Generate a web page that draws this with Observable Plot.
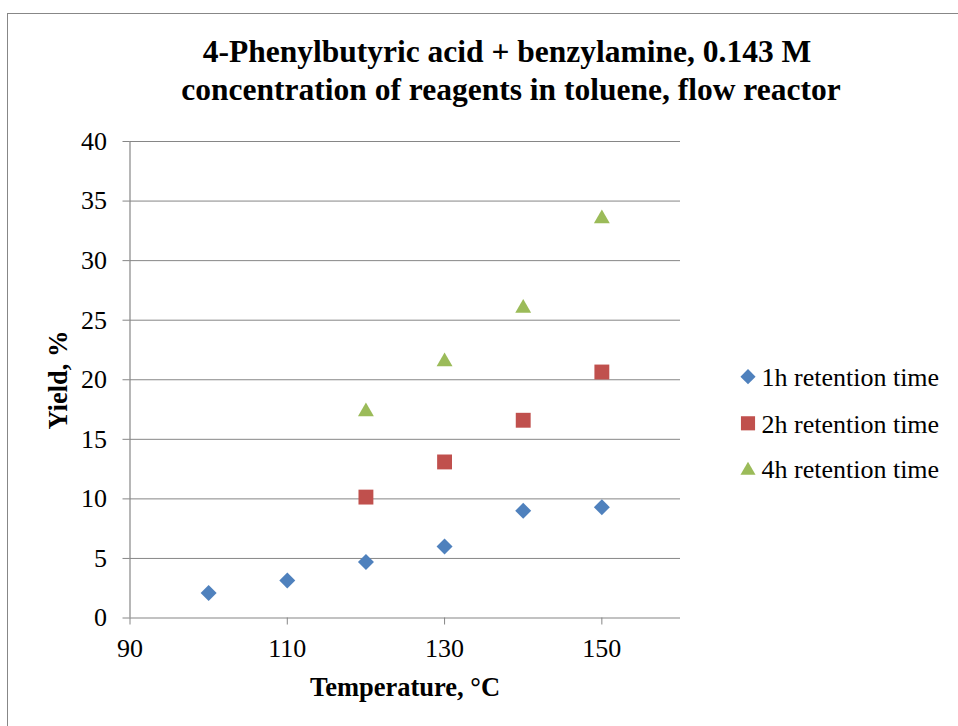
<!DOCTYPE html>
<html>
<head>
<meta charset="utf-8">
<script src="https://cdn.jsdelivr.net/npm/d3@7"></script>
<script src="https://cdn.jsdelivr.net/npm/@observablehq/plot@0.6"></script>
<style>
  html, body { margin: 0; padding: 0; background: #fff; }
  #wrap { position: relative; width: 958px; height: 726px; overflow: hidden; font-family: "Liberation Serif", "DejaVu Serif", serif; color: #000; }
  #frame { position: absolute; left: 7px; top: 13px; width: 1200px; height: 1000px; border: 1.5px solid #878787; }
  #chart { position: absolute; left: 0; top: 0; }
  #overlay { position: absolute; left: 0; top: 0; }
</style>
</head>
<body>
<div id="wrap">
  <div id="frame"></div>
  <div id="chart"></div>
</div>
<script>
// ---- data ----
const titleLines = ["4-Phenylbutyric acid + benzylamine, 0.143 M", "concentration of reagents in toluene, flow reactor"];
const xLabel = "Temperature, °C";
const yLabel = "Yield, %";
const seriesNames = ["1h retention time", "2h retention time", "4h retention time"];
const seriesColors = ["#4F81BD", "#C0504D", "#9BBB59"];
const seriesSymbols = ["diamond2", "square", "triangle"];

const temps1h = [100, 110, 120, 130, 140, 150];
const yield1h = [2.1, 3.15, 4.7, 6.0, 9.0, 9.3];
const temps2h = [120, 130, 140, 150];
const yield2h = [10.15, 13.1, 16.6, 20.65];
const temps4h = [120, 130, 140, 150];
const yield4h = [17.5, 21.7, 26.2, 33.7];

const xTicks = [90, 110, 130, 150];
const yTicks = [0, 5, 10, 15, 20, 25, 30, 35, 40];
const xDomain = [90, 160];
const yDomain = [0, 40];

// ---- build ----
const series = [
  {temps: temps1h, vals: yield1h},
  {temps: temps2h, vals: yield2h},
  {temps: temps4h, vals: yield4h}
].map((s, k) => ({
  name: seriesNames[k], color: seriesColors[k], symbol: seriesSymbols[k],
  rows: s.temps.map((t, i) => ({t, v: s.vals[i]}))
}));
const rSize = {diamond2: 7.2, square: 8.4, triangle: 5.9};
const dyShift = {diamond2: 0, square: 0, triangle: 2.2};
const grid = "#868686";
const serif = "'Liberation Serif', 'DejaVu Serif', serif";

const plot = Plot.plot({
  width: 958,
  height: 726,
  marginLeft: 129.5,
  marginRight: 278,
  marginTop: 141,
  marginBottom: 108.5,
  style: {background: "transparent", fontFamily: serif, fontSize: "26px", color: "#000"},
  x: {domain: xDomain},
  y: {domain: yDomain},
  marks: [
    Plot.ruleY(yTicks.filter(d => d > 0), {stroke: grid, strokeWidth: 1}),
    Plot.ruleY([0], {stroke: grid, strokeWidth: 1.2}),
    Plot.ruleX([xDomain[0]], {stroke: grid, strokeWidth: 1.2}),
    Plot.axisY({ticks: yTicks, tickSize: 7, tickPadding: 16, stroke: grid, strokeOpacity: 1, fill: "#000", label: null}),
    Plot.axisX({ticks: xTicks, tickSize: 7, tickPadding: 14, stroke: grid, strokeOpacity: 1, fill: "#000", label: null}),
    ...series.map(s => Plot.dot(s.rows, {
      x: "t", y: "v", symbol: s.symbol, fill: s.color, stroke: "none",
      r: rSize[s.symbol], dy: dyShift[s.symbol]
    }))
  ]
});
document.getElementById("chart").appendChild(plot);

// ---- text overlay: title, axis titles, legend ----
const ov = d3.select("#wrap").append("svg")
  .attr("id", "overlay").attr("width", 958).attr("height", 726)
  .style("font-family", serif);

const titleCenters = [507, 511];
const titleBaselines = [61.7, 99.5];
titleLines.forEach((t, i) => {
  ov.append("text")
    .attr("x", titleCenters[i]).attr("y", titleBaselines[i])
    .attr("text-anchor", "middle")
    .attr("font-weight", "bold").attr("font-size", 31.5)
    .text(t);
});

ov.append("text")
  .attr("x", 405).attr("y", 696)
  .attr("text-anchor", "middle")
  .attr("font-weight", "bold").attr("font-size", 26.5)
  .text(xLabel);

ov.append("text")
  .attr("transform", "translate(67,380) rotate(-90)")
  .attr("text-anchor", "middle")
  .attr("font-weight", "bold").attr("font-size", 26.5)
  .text(yLabel);

const symMap = {diamond2: d3.symbolDiamond2, square: d3.symbolSquare, triangle: d3.symbolTriangle};
const legCenters = [376.7, 423.3, 468.3];
series.forEach((s, k) => {
  const g = ov.append("g").attr("transform", `translate(748,${legCenters[k]})`);
  g.append("path")
    .attr("transform", `translate(0,${dyShift[s.symbol]})`)
    .attr("d", d3.symbol(symMap[s.symbol], Math.PI * rSize[s.symbol] ** 2 * 0.9)())
    .attr("fill", s.color);
  g.append("text")
    .attr("x", 13.5).attr("y", 9.5)
    .attr("font-size", 26)
    .text(s.name);
});
</script>
</body>
</html>
